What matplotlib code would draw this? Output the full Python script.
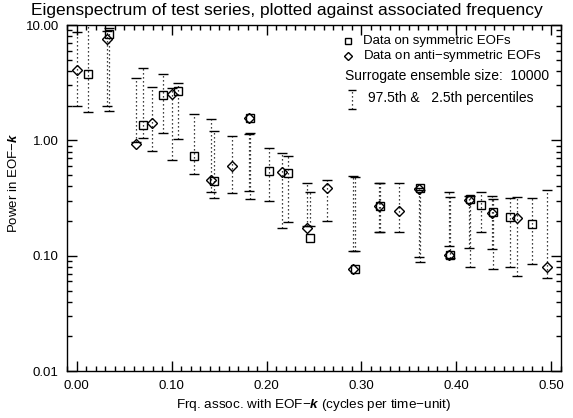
import matplotlib

matplotlib.use("Agg")

import matplotlib.pyplot as plt  # noqa: E402
from matplotlib.ticker import FixedLocator, FormatStrFormatter, MultipleLocator  # noqa: E402

# symmetric EOFs (squares)
sym_freq = [0.012, 0.034, 0.070, 0.091, 0.107, 0.124, 0.145, 0.183, 0.203, 0.223,
            0.246, 0.293, 0.319, 0.362, 0.393, 0.414, 0.426, 0.4385, 0.456, 0.479]
sym_power = [3.80, 8.35, 1.36, 2.47, 2.68, 0.73, 0.443, 1.56, 0.546, 0.525,
             0.1415, 0.0762, 0.270, 0.384, 0.1007, 0.310, 0.275, 0.240, 0.215, 0.188]
sym_hi = [11.0, 9.36, 4.26, 3.76, 3.12, 1.68, 1.21, 1.15, 0.863, 0.731,
          0.354, 0.478, 0.424, 0.37, 0.325, 0.331, 0.354, 0.310, 0.314, 0.318]
sym_lo = [1.77, 1.80, 1.04, 1.17, 1.03, 0.51, 0.318, 0.312, 0.298, 0.195,
          0.181, 0.110, 0.161, 0.0876, 0.0948, 0.080, 0.160, 0.0766, 0.0793, 0.0847]

# anti-symmetric EOFs (diamonds)
anti_freq = [0.000, 0.032, 0.063, 0.079, 0.100, 0.142, 0.164, 0.182, 0.216, 0.243,
             0.264, 0.2915, 0.318, 0.340, 0.361, 0.392, 0.413, 0.4375, 0.464, 0.495]
anti_power = [4.07, 7.52, 0.94, 1.41, 2.52, 0.453, 0.603, 1.56, 0.528, 0.175,
              0.388, 0.0762, 0.268, 0.244, 0.380, 0.1007, 0.305, 0.236, 0.211, 0.080]
anti_hi = [8.75, 8.90, 3.45, 2.92, 2.86, 1.53, 1.10, 1.13, 0.781, 0.424,
           0.453, 0.496, 0.424, 0.424, 0.39, 0.354, 0.331, 0.330, 0.325, 0.371]
anti_lo = [1.99, 2.00, 0.97, 0.813, 0.675, 0.359, 0.347, 0.366, 0.175, 0.181,
           0.201, 0.110, 0.161, 0.161, 0.098, 0.122, 0.118, 0.1135, 0.0670, 0.0637]

y_ticks = [0.01, 0.1, 1.0, 10.0]
x_ticks = [0.0, 0.1, 0.2, 0.3, 0.4, 0.5]

plt.rcParams.update({
    "font.family": ["Liberation Sans", "DejaVu Sans"],
    "font.size": 9.5,
    "mathtext.fontset": "custom",
    "mathtext.rm": "Liberation Sans",
    "mathtext.bf": "Liberation Sans:italic:bold",
    "axes.linewidth": 1.0,
})

DOT = (0, (1, 2.2))

fig = plt.figure(figsize=(5.73, 4.18), dpi=100)
ax = fig.add_axes([0.117, 0.112, 0.862, 0.828])


def draw_bars(freq, hi, lo):
    ax.vlines(freq, lo, hi, colors="black", linewidth=0.9, linestyles=[DOT])
    ax.plot(freq, hi, ls="none", marker="_", ms=6.5, mew=1.0, color="black")
    ax.plot(freq, lo, ls="none", marker="_", ms=6.5, mew=1.0, color="black")


draw_bars(sym_freq, sym_hi, sym_lo)
draw_bars(anti_freq, anti_hi, anti_lo)
ax.plot(sym_freq, sym_power, ls="none", marker="s", ms=6, mfc="none", mec="black", mew=1.0)
ax.plot(anti_freq, anti_power, ls="none", marker="D", ms=5.5, mfc="none", mec="black", mew=1.0)

ax.set_yscale("log")
ax.set_ylim(0.01, 10.0)
ax.set_xlim(-0.01, 0.51)
ax.yaxis.set_major_locator(FixedLocator(y_ticks))
ax.yaxis.set_major_formatter(FormatStrFormatter("%.2f"))
ax.xaxis.set_major_locator(FixedLocator(x_ticks))
ax.xaxis.set_major_formatter(FormatStrFormatter("%.2f"))
ax.xaxis.set_minor_locator(MultipleLocator(0.01))
ax.tick_params(which="both", direction="in", top=True, right=True, width=1.0)
ax.tick_params(which="major", length=7, pad=6)
ax.tick_params(which="minor", length=3.5)

ax.set_xlabel(r"Frq. assoc. with EOF$-\mathbf{k}$ (cycles per time$-$unit)",
              labelpad=4, fontsize=9.7)
ax.set_ylabel(r"Power in EOF$-\mathbf{k}$")
ax.yaxis.set_label_coords(-0.095, 0.543)
fig.text(0.5, 0.975, "Eigenspectrum of test series, plotted against associated frequency",
         ha="center", va="center", fontsize=12.5)

# legend, drawn by hand in axes fractions
tr = ax.transAxes
ax.plot([0.569], [0.953], marker="s", ms=4.5, mfc="none", mec="black", mew=1.0, transform=tr)
ax.text(0.600, 0.953, "Data on symmetric EOFs", transform=tr, va="center", fontsize=9.5)
ax.plot([0.569], [0.910], marker="D", ms=4.5, mfc="none", mec="black", mew=1.0, transform=tr)
ax.text(0.600, 0.910, "Data on anti$-$symmetric EOFs", transform=tr, va="center", fontsize=9.5)
ax.text(0.563, 0.852, "Surrogate ensemble size:  10000", transform=tr, va="center",
        fontsize=10)
ax.plot([0.577, 0.577], [0.757, 0.812], color="black", lw=0.9, ls=DOT, transform=tr)
ax.plot([0.577, 0.577], [0.757, 0.812], ls="none", marker="_", ms=5.5, mew=1.0,
        color="black", transform=tr)
ax.text(0.610, 0.790, "97.5th &   2.5th percentiles", transform=tr, va="center", fontsize=10)

fig.savefig("out.png", dpi=100)
